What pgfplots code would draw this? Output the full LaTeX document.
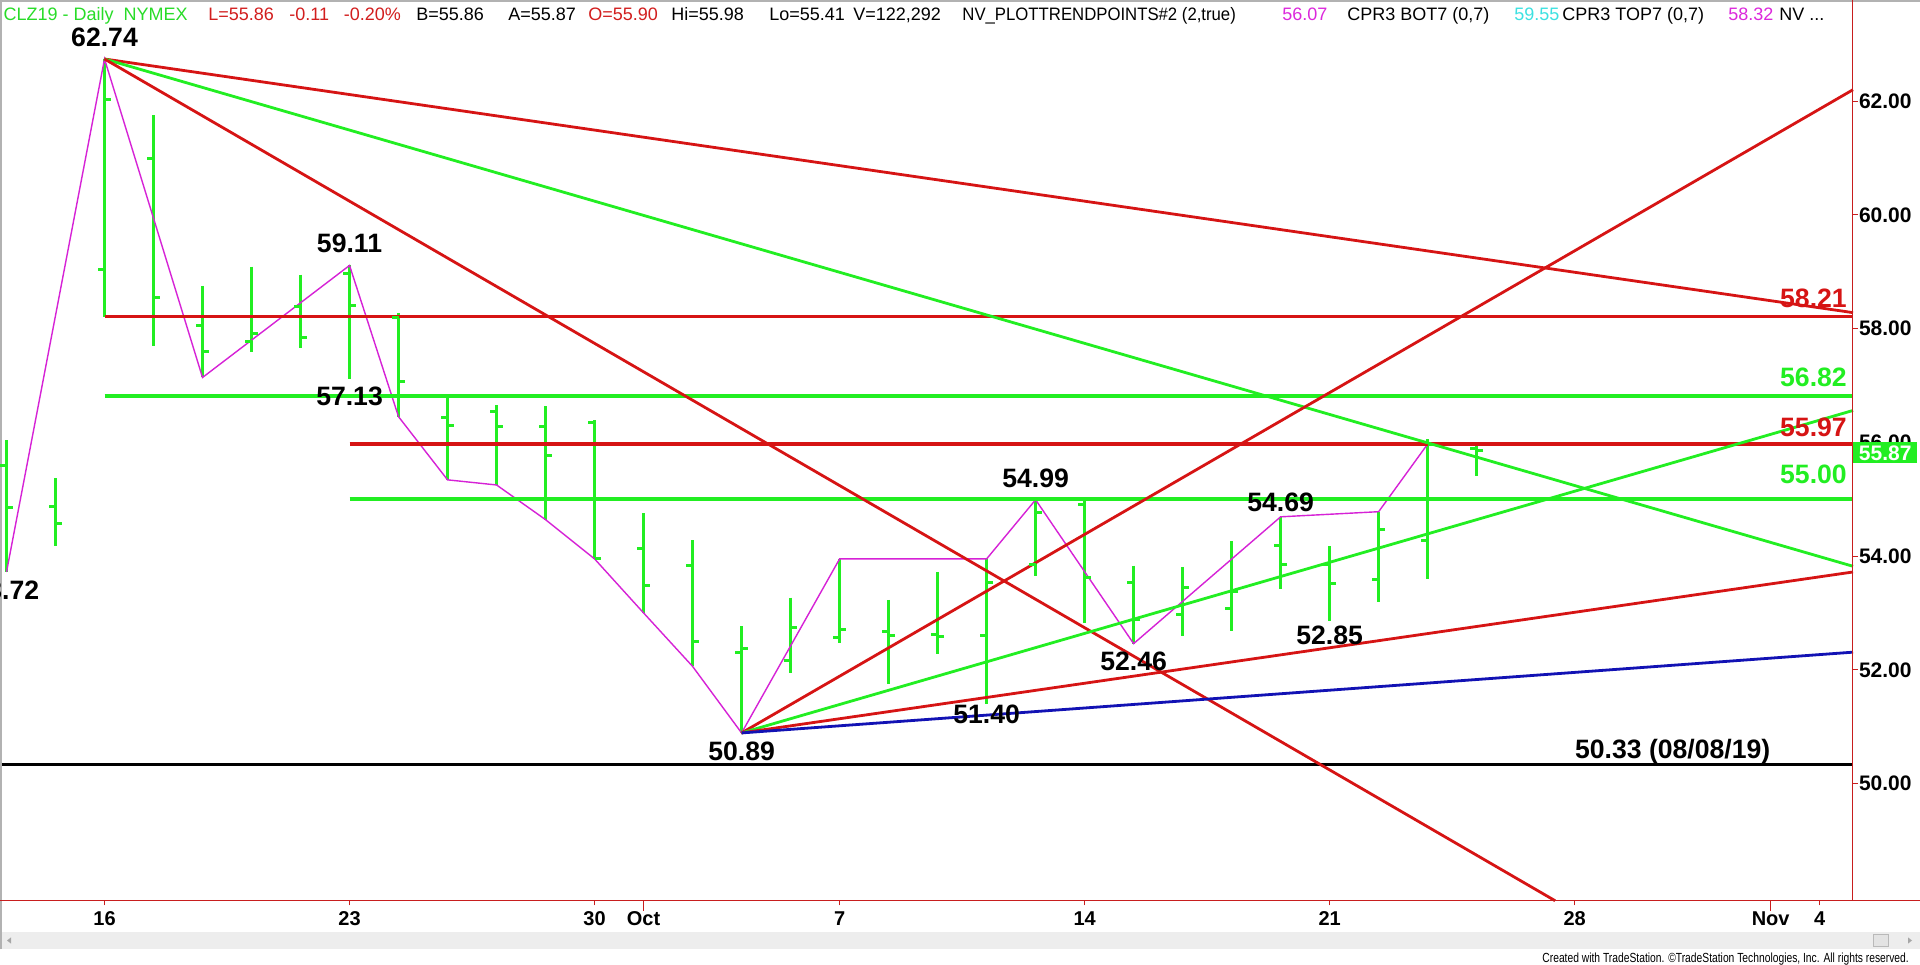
\documentclass[border=0pt]{standalone}
\usepackage{fontspec}
\setmainfont{Liberation Sans}
\usepackage{pgfplots}
\usepackage{pgfplotstable}
\pgfplotsset{compat=1.18}
\definecolor{tsgreen}{RGB}{34,238,34}
\definecolor{tsred}{RGB}{214,20,20}
\definecolor{tsblue}{RGB}{18,18,180}
\definecolor{tsmag}{RGB}{214,34,214}
\definecolor{axred}{RGB}{200,30,30}
\definecolor{hdgreen}{RGB}{40,220,40}
\definecolor{hdred}{RGB}{210,30,30}
\definecolor{hdcyan}{RGB}{60,225,225}
\definecolor{hdmag}{RGB}{220,40,220}

% trading-day index: 0 = Sep 16, 2019
\pgfplotstableread{
x o h l c
-2 55.59 56.04 53.72 54.85
-1 54.87 55.37 54.17 54.58
0 59.03 62.74 58.21 62.02
1 60.99 61.75 57.69 58.55
2 58.05 58.75 57.14 57.59
3 57.77 59.09 57.59 57.92
4 58.38 58.95 57.65 57.84
5 58.97 59.11 57.11 58.40
6 58.20 58.27 56.45 57.07
7 56.43 56.83 55.34 56.29
8 56.55 56.65 55.25 56.27
9 56.28 56.63 54.64 55.77
10 56.35 56.39 53.95 53.96
11 54.13 54.75 53.00 53.48
12 53.83 54.28 52.06 52.50
13 52.30 52.77 50.89 52.38
14 52.17 53.27 51.94 52.74
15 52.57 53.95 52.47 52.70
16 52.67 53.23 51.75 52.60
17 52.62 53.72 52.28 52.59
18 52.60 53.96 51.40 53.54
19 53.86 54.99 53.65 54.77
20 54.90 54.99 52.83 53.63
21 53.54 53.83 52.46 52.88
22 52.97 53.81 52.59 53.44
23 53.07 54.26 52.69 53.38
24 54.18 54.69 53.42 53.86
25 53.86 54.17 52.85 53.51
26 53.59 54.78 53.20 54.47
27 54.28 56.05 53.59 55.97
28 55.90 55.98 55.41 55.86
}\bars

\begin{document}
\begin{tikzpicture}
\useasboundingbox (0,0) rectangle (960pt,482pt);
\fill[white] (0,0) rectangle (960pt,482pt);
% scrollbar
\fill[gray!14] (0,7.5pt) rectangle (960pt,16pt);
\draw[gray!55, fill=gray!22] (936.5pt,8.6pt) rectangle (944pt,14.8pt);
\fill[gray!70] (3.5pt,11.75pt) -- (5.5pt,13.3pt) -- (5.5pt,10.2pt) -- cycle;
\fill[gray!70] (956pt,11.75pt) -- (954pt,13.3pt) -- (954pt,10.2pt) -- cycle;
% frame
\draw[gray!60, line width=0.8pt] (0.4pt,7.5pt) -- (0.4pt,481.6pt) -- (960pt,481.6pt);

\begin{axis}[
  at={(1pt,31.65pt)}, anchor=south west,
  scale only axis, width=925.5pt, height=435.35pt,
  xmin=-2.092, xmax=35.68, ymin=47.94, ymax=63.25,
  clip=false,
  axis x line*=bottom, axis y line*=right,
  axis line style={draw=none},
  xtick={0,5,10,15,20,25,30,35},
  xticklabels={16,23,30,7,14,21,28,4},
  extra x ticks={11,34},
  extra x tick labels={Oct,Nov},
  extra x tick style={major tick length=5pt, xticklabel style={yshift=2.8pt}},
  ytick={50,52,54,56,58,60,62},
  tick align=outside,
  major tick length=2.3pt,
  tick style={draw=axred, line width=0.5pt},
  /pgf/number format/fixed,
  /pgf/number format/fixed zerofill,
  /pgf/number format/precision=2,
  /pgf/number format/assume math mode=true,
  xticklabel style={font=\bfseries\fontsize{10}{12}\selectfont, inner sep=1pt, yshift=-2pt},
  yticklabel style={font=\bfseries\fontsize{10.5}{12}\selectfont, inner sep=0.5pt},
]
% OHLC bars: high-low range
\addplot[draw=none, mark=none, forget plot,
  error bars/.cd, y dir=minus, y explicit, error mark=none,
  error bar style={draw=tsgreen, solid, line width=1.5pt}]
  table[x=x, y=h, y error minus expr=\thisrow{h}-\thisrow{l}] {\bars};
% open ticks (left)
\addplot[only marks, mark=-, mark size=1.6pt, forget plot,
  mark options={draw=tsgreen, line width=1.5pt, xshift=-1.6pt}]
  table[x=x, y=o] {\bars};
% close ticks (right)
\addplot[only marks, mark=-, mark size=1.6pt, forget plot,
  mark options={draw=tsgreen, line width=1.5pt, xshift=1.6pt}]
  table[x=x, y=c] {\bars};

% swing zig-zag
\addplot[tsmag, line width=0.7pt] coordinates {
(-2,53.72) (0,62.74) (2,57.14) (5,59.11) (6,56.45) (7,55.34) (8,55.25) (9,54.64)
(10,53.95) (11,53.00) (12,52.06) (13,50.89) (15,53.95) (18,53.95) (19,54.99)
(21,52.46) (24,54.69) (26,54.78) (27,55.97)};

% horizontal levels
\addplot[tsred, line width=1.8pt] coordinates {(0,58.21) (35.68,58.21)};
\addplot[tsgreen, line width=1.9pt] coordinates {(0,56.82) (35.68,56.82)};
\addplot[tsred, line width=1.8pt] coordinates {(5,55.97) (35.68,55.97)};
\addplot[tsgreen, line width=1.9pt] coordinates {(5,55.00) (35.68,55.00)};
\addplot[black, line width=1.4pt] coordinates {(-2.092,50.33) (35.68,50.33)};

% angle lines from the 62.74 high
\addplot[tsred, line width=1.4pt] coordinates {(0,62.74) (35.68,58.28)};
\addplot[tsgreen, line width=1.4pt] coordinates {(0,62.74) (35.68,53.82)};
\addplot[tsred, line width=1.4pt] coordinates {(0,62.74) (29.6,47.94)};
% angle lines from the 50.89 low
\addplot[tsred, line width=1.4pt] coordinates {(13,50.89) (35.68,62.20)};
\addplot[tsgreen, line width=1.4pt] coordinates {(13,50.89) (35.68,56.56)};
\addplot[tsred, line width=1.4pt] coordinates {(13,50.89) (35.68,53.72)};
\addplot[tsblue, line width=1.4pt] coordinates {(13,50.89) (35.68,52.31)};

% swing labels
\begin{scope}[every node/.style={font=\bfseries\fontsize{13.3}{15}\selectfont, inner sep=0pt}]
\node at (axis cs:0,63.12) {62.74};
\node at (axis cs:5,59.49) {59.11};
\node at (axis cs:5,56.81) {57.13};
\node[anchor=east] at (axis cs:-1.324,53.40) {53.72};
\node at (axis cs:19,55.37) {54.99};
\node at (axis cs:24,54.94) {54.69};
\node at (axis cs:25,52.60) {52.85};
\node at (axis cs:21,52.14) {52.46};
\node at (axis cs:18,51.22) {51.40};
\node at (axis cs:13,50.57) {50.89};
\node at (axis cs:32,50.57) {50.33 (08/08/19)};
\node[anchor=east, text=tsred] at (axis cs:35.56,58.54) {58.21};
\node[anchor=east, text=tsgreen] at (axis cs:35.56,57.14) {56.82};
\node[anchor=east, text=tsred] at (axis cs:35.56,56.27) {55.97};
\node[anchor=east, text=tsgreen] at (axis cs:35.56,55.43) {55.00};
\end{scope}
\end{axis}

% axis lines
\draw[axred, line width=0.6pt] (0,31.65pt) -- (960pt,31.65pt);
\draw[axred, line width=0.6pt] (926.4pt,31.65pt) -- (926.4pt,482pt);
% last price box
\fill[tsgreen] (926.6pt,250.5pt) rectangle (958.6pt,261pt);
\node[text=white, font=\bfseries\fontsize{10.5}{12}\selectfont, inner sep=0pt] at (942.6pt,255.6pt) {55.87};

% header
\begin{scope}[every node/.style={anchor=base west, inner sep=0pt, font=\fontsize{9}{10}\selectfont}]
\node[text=hdgreen] at (1.65pt,471.6pt) {CLZ19 - Daily\ \ NYMEX};
\node[text=hdred] at (104pt,471.6pt) {L=55.86};
\node[text=hdred] at (144.5pt,471.6pt) {-0.11};
\node[text=hdred] at (171.7pt,471.6pt) {-0.20\%};
\node at (208pt,471.6pt) {B=55.86};
\node at (254pt,471.6pt) {A=55.87};
\node[text=hdred] at (294pt,471.6pt) {O=55.90};
\node at (335.5pt,471.6pt) {Hi=55.98};
\node at (384.5pt,471.6pt) {Lo=55.41};
\node at (426.5pt,471.6pt) {V=122,292};
\node at (481pt,471.6pt) {\scalebox{0.93}[1]{NV\_PLOTTRENDPOINTS\#2 (2,true)}};
\node[text=hdmag] at (641pt,471.6pt) {56.07};
\node at (673.5pt,471.6pt) {CPR3 BOT7 (0,7)};
\node[text=hdcyan] at (757pt,471.6pt) {59.55};
\node at (781pt,471.6pt) {CPR3 TOP7 (0,7)};
\node[text=hdmag] at (864pt,471.6pt) {58.32};
\node at (889.5pt,471.6pt) {NV ...};
\end{scope}

% footer
\node[anchor=base west, inner sep=0pt, font=\fontsize{6.6}{7}\selectfont] at (771pt,0.8pt)
  {\scalebox{0.78}[1]{Created with TradeStation. ©TradeStation Technologies, Inc. All rights reserved.}};
\end{tikzpicture}
\end{document}
